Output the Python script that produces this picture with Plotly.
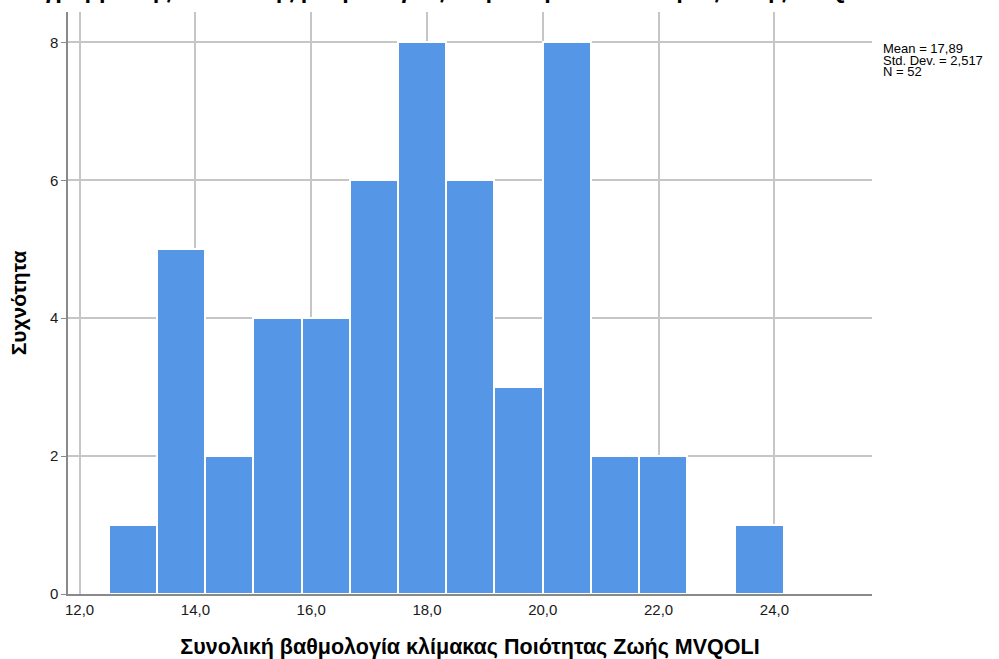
import plotly.graph_objects as go

# Histogram of the total MVQOLI quality-of-life score
bin_start = 12.505
bin_width = 0.8325
counts = [1, 5, 2, 4, 4, 6, 8, 6, 3, 8, 2, 2, 0, 1]

x_tick_vals = [12, 14, 16, 18, 20, 22, 24]
x_tick_text = ["12,0", "14,0", "16,0", "18,0", "20,0", "22,0", "24,0"]
y_tick_vals = [0, 2, 4, 6, 8]
y_tick_text = ["0", "2", "4", "6", "8"]

stats_lines = ["Mean = 17,89", "Std. Dev. = 2,517", "N = 52"]

chart_title = "Ιστόγραμμα της συνολικής βαθμολογίας στην κλίμακα Ποιότητας Ζωής MVQOLI"
x_title = "Συνολική βαθμολογία κλίμακας Ποιότητας Ζωής MVQOLI"
y_title = "Συχνότητα"

centers = [bin_start + bin_width * (i + 0.5) for i in range(len(counts))]

FONT = "Liberation Sans, Arial, sans-serif"
BAR = "#5596e6"
GRID = "#c6c6c6"
AXIS = "#8a8a8a"

fig = go.Figure(
    go.Bar(
        x=centers,
        y=counts,
        width=[bin_width] * len(counts),
        marker=dict(color=BAR, line=dict(color="white", width=2)),
        hoverinfo="x+y",
    )
)

fig.update_layout(
    width=999,
    height=659,
    margin=dict(l=68, r=127, t=12, b=65, autoexpand=False),
    paper_bgcolor="white",
    plot_bgcolor="white",
    showlegend=False,
    font=dict(family=FONT, color="#000000"),
    bargap=0,
)

fig.update_xaxes(
    range=[11.80, 25.686],
    tickmode="array",
    tickvals=x_tick_vals,
    ticktext=x_tick_text,
    tickfont=dict(size=15, color="#1a1a1a"),
    showgrid=True,
    gridcolor=GRID,
    gridwidth=1.5,
    showline=True,
    linecolor=AXIS,
    linewidth=1.5,
    ticks="",
    ticklabelstandoff=1,
    zeroline=False,
    title=dict(text=x_title, font=dict(size=21.5, color="#000000", weight="bold"), standoff=22),
)

fig.update_yaxes(
    range=[0, 8.44],
    tickmode="array",
    tickvals=y_tick_vals,
    ticktext=y_tick_text,
    tickfont=dict(size=15, color="#1a1a1a"),
    showgrid=True,
    gridcolor=GRID,
    gridwidth=1.5,
    showline=True,
    linecolor=AXIS,
    linewidth=1.5,
    ticks="outside",
    ticklen=5,
    tickcolor=AXIS,
    tickwidth=1,
    zeroline=False,
    title=dict(text=y_title, font=dict(size=21, color="#000000", weight="bold"), standoff=18),
)

# Summary statistics beside the plot area
for i, line in enumerate(stats_lines):
    fig.add_annotation(
        text=line,
        xref="paper",
        yref="y",
        x=1.0,
        xshift=9,
        y=7.91 - i * 0.17,
        xanchor="left",
        yanchor="middle",
        showarrow=False,
        font=dict(size=13, family=FONT, color="#000000"),
    )

# Chart title, placed at the very top edge of the page
fig.add_annotation(
    text=chart_title,
    xref="paper",
    yref="paper",
    x=0.463,
    y=1.0,
    yshift=7,
    xanchor="center",
    yanchor="bottom",
    showarrow=False,
    font=dict(size=23.5, family=FONT, color="#000000", weight="bold"),
)

fig.write_html("out.html")
